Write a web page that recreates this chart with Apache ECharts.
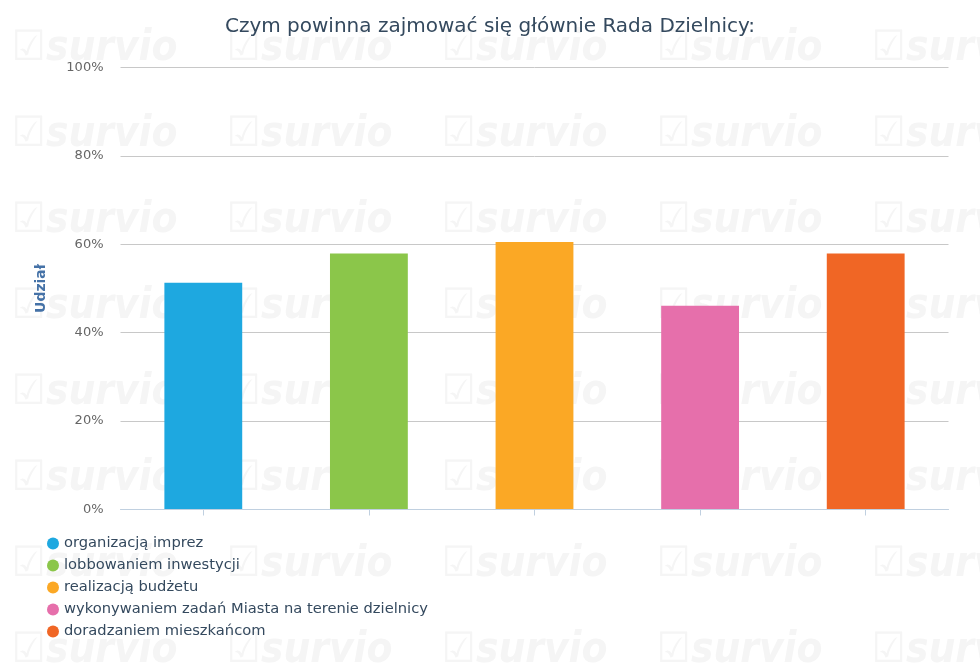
<!DOCTYPE html>
<html>
<head>
<meta charset="utf-8">
<script src="https://cdn.jsdelivr.net/npm/echarts@6/dist/echarts.min.js"></script>
<style>
  html, body { margin: 0; padding: 0; background: #fff; }
  #echartsMain { width: 980px; height: 668px; }
</style>
</head>
<body>
<div id="echartsMain"></div>
<script type="text/javascript">
// odpowiedzi (kategorie) i udział w %
var categories = [
    'organizacją imprez',
    'lobbowaniem inwestycji',
    'realizacją budżetu',
    'wykonywaniem zadań Miasta na terenie dzielnicy',
    'doradzaniem mieszkańcom'
];
var shares = [51.3, 57.9, 60.5, 46.1, 57.9];
var colors = ['#1ea8e0', '#8bc64a', '#fba825', '#e66fab', '#f06625'];
var yTicks = [0, 20, 40, 60, 80, 100];

// jedna seria na odpowiedź, żeby legenda miała osobne pozycje
var series = categories.map(function (name, i) {
    return {
        name: name,
        type: 'bar',
        stack: 'all',
        barWidth: '47%',
        itemStyle: { color: colors[i] },
        data: shares.map(function (v, j) { return j === i ? v : '-'; })
    };
});

// znak wodny survio w tle
var watermark = [];
for (var r = 0; r < 8; r++) {
    for (var c = 0; c < 5; c++) {
        watermark.push({
            type: 'text',
            left: 12 + c * 215,
            top: 28 + r * 86,
            z: -10,
            silent: true,
            style: {
                text: '\u2611survio',
                fill: '#f5f5f5',
                font: 'italic bold 42px "DejaVu Sans Condensed", "DejaVu Sans"'
            }
        });
    }
}

var myChart = echarts.init(document.getElementById('echartsMain'));
var option = {
    animation: false,
    backgroundColor: '#fff',
    textStyle: { fontFamily: '"DejaVu Sans", sans-serif' },
    graphic: watermark,
    title: {
        text: 'Czym powinna zajmować się głównie Rada Dzielnicy:',
        left: 'center',
        top: 12,
        textStyle: { fontSize: 20, fontWeight: 'normal', color: '#34495e' }
    },
    legend: {
        orient: 'vertical',
        left: 42,
        top: 531,
        icon: 'circle',
        itemWidth: 12,
        itemHeight: 12,
        itemGap: 7,
        data: categories,
        textStyle: { fontSize: 14.7, color: '#34495e' }
    },
    grid: { left: 120.5, right: 31.5, top: 67.5, bottom: 158.5 },
    xAxis: {
        type: 'category',
        data: categories,
        z: 5,
        axisLine: { lineStyle: { color: '#c0d0e0' } },
        axisTick: { show: true, interval: 0, alignWithLabel: true, length: 6, lineStyle: { color: '#c0d0e0' } },
        axisLabel: { show: false, interval: 0 }
    },
    yAxis: {
        type: 'value',
        min: yTicks[0],
        max: yTicks[yTicks.length - 1],
        interval: 20,
        name: 'Udział',
        nameLocation: 'middle',
        nameGap: 72,
        nameTextStyle: { fontSize: 14, fontWeight: 'bold', color: '#4572a7' },
        axisLabel: { formatter: '{value}%', fontSize: 13, color: '#666', margin: 17 },
        splitLine: { lineStyle: { color: '#c8c8c8' } }
    },
    series: series
};
myChart.setOption(option);
</script>
</body>
</html>
